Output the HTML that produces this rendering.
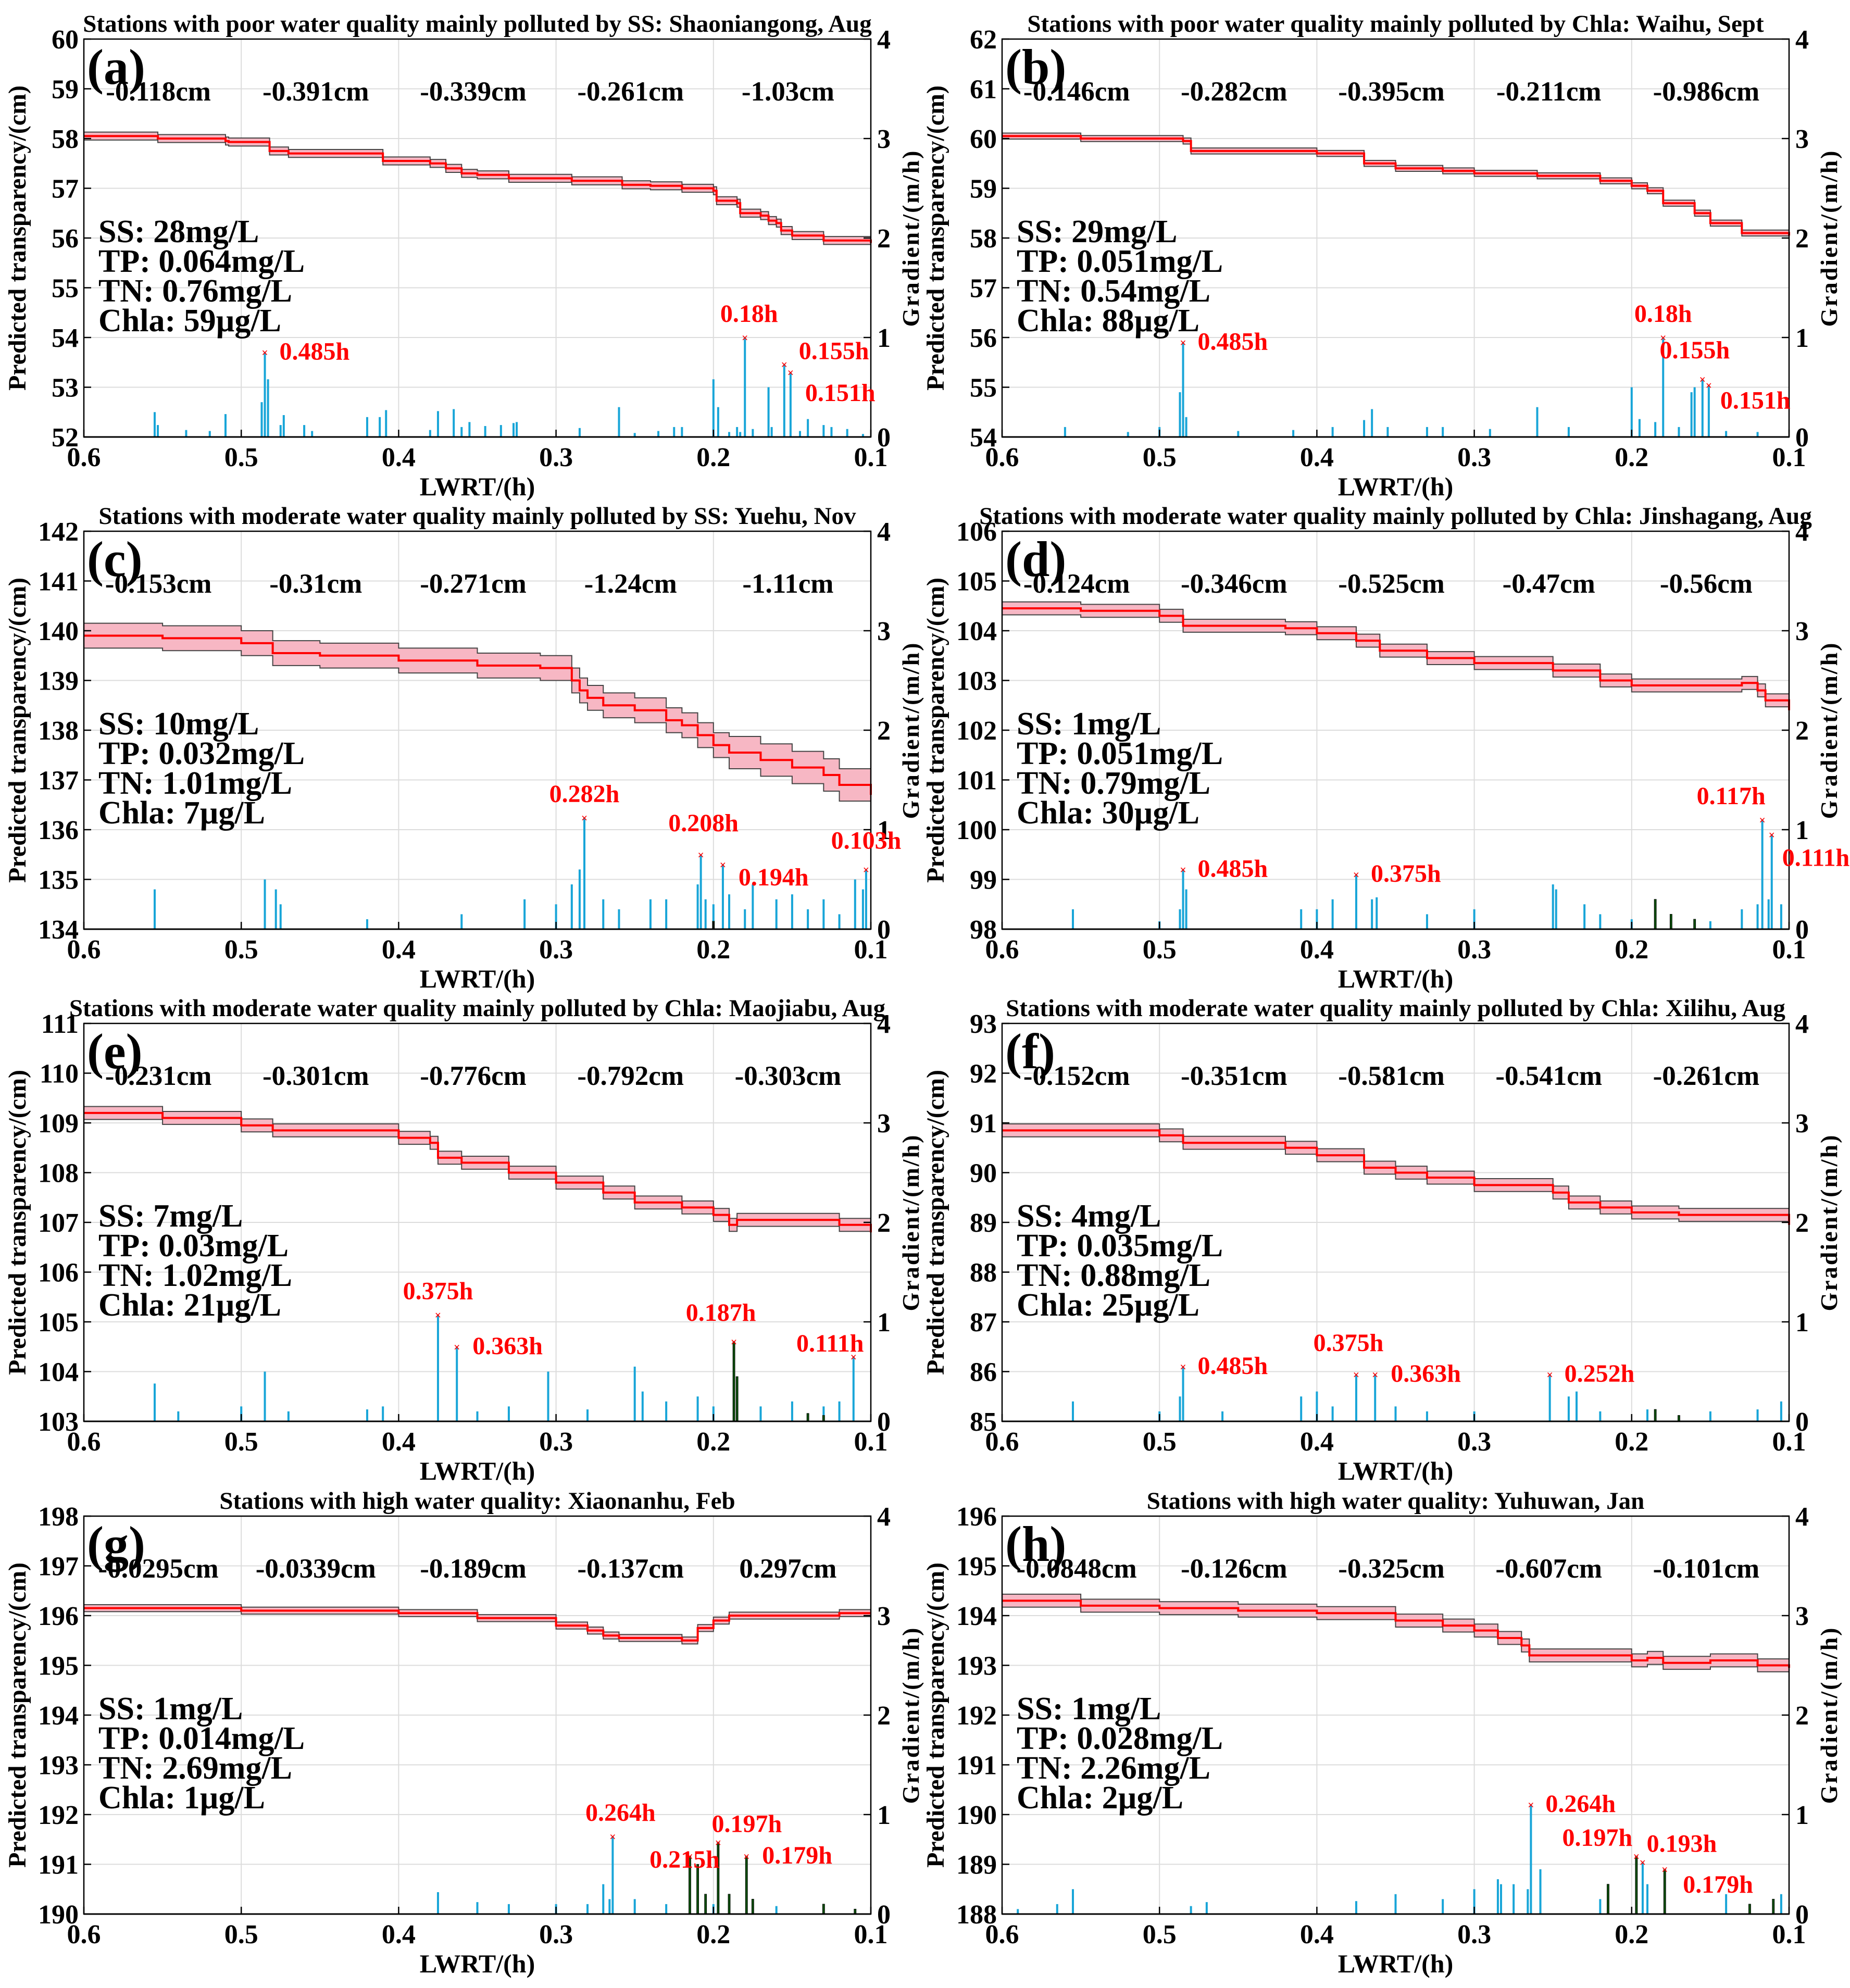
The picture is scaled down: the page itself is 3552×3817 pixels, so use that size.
<!DOCTYPE html>
<html><head><meta charset="utf-8"><style>
html,body{margin:0;padding:0;background:#fff;}
svg{display:block;font-family:"Liberation Serif",serif;font-weight:bold;}
</style></head><body>
<svg id="fig" width="3552" height="3817" viewBox="0 0 3552 3817" xmlns="http://www.w3.org/2000/svg"></svg>
<script>
// ---- panel data (LWRT hours, transparency cm, gradient m/h) ----
const panelIds = ['a','b','c','d','e','f','g','h'];
const titles = [
 'Stations with poor water quality mainly polluted by SS: Shaoniangong, Aug',
 'Stations with poor water quality mainly polluted by Chla: Waihu, Sept',
 'Stations with moderate water quality mainly polluted by SS: Yuehu, Nov',
 'Stations with moderate water quality mainly polluted by Chla: Jinshagang, Aug',
 'Stations with moderate water quality mainly polluted by Chla: Maojiabu, Aug',
 'Stations with moderate water quality mainly polluted by Chla: Xilihu, Aug',
 'Stations with high water quality: Xiaonanhu, Feb',
 'Stations with high water quality: Yuhuwan, Jan'];
const yMins = [52,54,134,98,103,85,190,188];
const segLabels = [
 ['-0.118cm','-0.391cm','-0.339cm','-0.261cm','-1.03cm'],
 ['-0.146cm','-0.282cm','-0.395cm','-0.211cm','-0.986cm'],
 ['-0.153cm','-0.31cm','-0.271cm','-1.24cm','-1.11cm'],
 ['-0.124cm','-0.346cm','-0.525cm','-0.47cm','-0.56cm'],
 ['-0.231cm','-0.301cm','-0.776cm','-0.792cm','-0.303cm'],
 ['-0.152cm','-0.351cm','-0.581cm','-0.541cm','-0.261cm'],
 ['-0.0295cm','-0.0339cm','-0.189cm','-0.137cm','0.297cm'],
 ['-0.0848cm','-0.126cm','-0.325cm','-0.607cm','-0.101cm']];
const quality = [
 ['SS: 28mg/L','TP: 0.064mg/L','TN: 0.76mg/L','Chla: 59\u00b5g/L'],
 ['SS: 29mg/L','TP: 0.051mg/L','TN: 0.54mg/L','Chla: 88\u00b5g/L'],
 ['SS: 10mg/L','TP: 0.032mg/L','TN: 1.01mg/L','Chla: 7\u00b5g/L'],
 ['SS: 1mg/L','TP: 0.051mg/L','TN: 0.79mg/L','Chla: 30\u00b5g/L'],
 ['SS: 7mg/L','TP: 0.03mg/L','TN: 1.02mg/L','Chla: 21\u00b5g/L'],
 ['SS: 4mg/L','TP: 0.035mg/L','TN: 0.88mg/L','Chla: 25\u00b5g/L'],
 ['SS: 1mg/L','TP: 0.014mg/L','TN: 2.69mg/L','Chla: 1\u00b5g/L'],
 ['SS: 1mg/L','TP: 0.028mg/L','TN: 2.26mg/L','Chla: 2\u00b5g/L']];
const bandHalf = [0.08,0.06,0.25,0.13,0.13,0.13,0.07,0.13];
const lineX = [
 [0.6,0.555,0.553,0.51,0.508,0.485,0.482,0.47,0.42,0.41,0.38,0.37,0.36,0.35,0.33,0.3,0.29,0.26,0.258,0.24,0.22,0.2,0.198,0.185,0.183,0.17,0.165,0.16,0.157,0.15,0.13,0.1],
 [0.6,0.55,0.485,0.48,0.4,0.37,0.35,0.32,0.3,0.26,0.22,0.2,0.19,0.18,0.16,0.15,0.13,0.1],
 [0.6,0.55,0.5,0.48,0.45,0.4,0.35,0.31,0.29,0.285,0.28,0.27,0.25,0.23,0.22,0.21,0.2,0.19,0.17,0.15,0.13,0.12,0.1],
 [0.6,0.55,0.5,0.485,0.42,0.4,0.375,0.36,0.33,0.3,0.25,0.22,0.2,0.13,0.12,0.115,0.1],
 [0.6,0.55,0.5,0.48,0.4,0.38,0.375,0.36,0.33,0.3,0.27,0.25,0.22,0.2,0.19,0.185,0.15,0.12,0.1],
 [0.6,0.5,0.485,0.42,0.4,0.37,0.35,0.33,0.3,0.25,0.24,0.22,0.2,0.17,0.1],
 [0.6,0.5,0.4,0.35,0.3,0.28,0.27,0.26,0.22,0.21,0.2,0.19,0.15,0.12,0.1],
 [0.6,0.55,0.5,0.45,0.4,0.35,0.32,0.3,0.285,0.27,0.265,0.2,0.19,0.18,0.15,0.12,0.1]];
const lineY = [
 [58.05,58.05,58.0,57.95,57.93,57.93,57.75,57.7,57.7,57.55,57.5,57.4,57.3,57.27,57.2,57.2,57.15,57.15,57.07,57.05,57.0,56.95,56.75,56.7,56.5,56.45,56.35,56.3,56.15,56.05,55.95,55.9],
 [60.05,60.0,59.95,59.75,59.7,59.5,59.4,59.35,59.3,59.25,59.15,59.05,58.95,58.7,58.5,58.3,58.1,58.05],
 [139.9,139.85,139.75,139.55,139.5,139.4,139.3,139.25,139.0,138.8,138.65,138.5,138.4,138.2,138.1,137.9,137.7,137.55,137.4,137.25,137.1,136.9,136.7],
 [104.45,104.4,104.3,104.1,104.05,103.95,103.8,103.6,103.45,103.35,103.2,103.0,102.9,102.95,102.8,102.6,102.4],
 [109.2,109.1,108.95,108.85,108.7,108.6,108.3,108.2,108.0,107.8,107.6,107.4,107.3,107.15,106.95,107.05,107.05,106.95,106.8],
 [90.85,90.75,90.6,90.5,90.35,90.1,90.0,89.9,89.75,89.6,89.4,89.3,89.2,89.15,88.95],
 [196.15,196.1,196.05,195.95,195.8,195.7,195.6,195.55,195.5,195.75,195.9,196.0,196.0,196.05,196.05],
 [194.3,194.2,194.15,194.1,194.05,193.9,193.8,193.7,193.55,193.4,193.2,193.1,193.15,193.05,193.1,193.0,192.95]];
const barX = [
 [0.555,0.553,0.535,0.52,0.51,0.487,0.485,0.483,0.475,0.473,0.46,0.455,0.42,0.412,0.408,0.38,0.375,0.365,0.36,0.355,0.345,0.335,0.327,0.325,0.285,0.26,0.25,0.235,0.225,0.22,0.2,0.197,0.19,0.185,0.183,0.18,0.175,0.165,0.163,0.155,0.151,0.145,0.14,0.13,0.125,0.115,0.105],
 [0.56,0.52,0.5,0.487,0.485,0.483,0.45,0.415,0.39,0.37,0.365,0.355,0.33,0.32,0.29,0.26,0.24,0.2,0.195,0.185,0.18,0.17,0.162,0.16,0.155,0.151,0.14,0.12],
 [0.555,0.485,0.478,0.475,0.42,0.36,0.32,0.3,0.29,0.285,0.282,0.27,0.26,0.24,0.23,0.21,0.208,0.205,0.2,0.194,0.19,0.18,0.175,0.16,0.15,0.14,0.13,0.12,0.11,0.105,0.103],
 [0.555,0.5,0.487,0.485,0.483,0.41,0.4,0.39,0.375,0.365,0.362,0.33,0.3,0.25,0.248,0.23,0.22,0.2,0.15,0.13,0.12,0.117,0.113,0.111,0.105],
 [0.555,0.54,0.5,0.485,0.47,0.42,0.41,0.375,0.363,0.35,0.33,0.305,0.28,0.25,0.245,0.23,0.21,0.2,0.17,0.15,0.13,0.12,0.111],
 [0.555,0.5,0.487,0.485,0.46,0.41,0.4,0.39,0.375,0.363,0.35,0.33,0.3,0.252,0.24,0.235,0.22,0.19,0.15,0.12,0.105],
 [0.375,0.35,0.33,0.3,0.28,0.27,0.266,0.264,0.25,0.23,0.2,0.16,0.11],
 [0.59,0.565,0.555,0.48,0.47,0.375,0.35,0.32,0.3,0.285,0.283,0.275,0.266,0.264,0.258,0.22,0.193,0.19,0.14,0.105]];
const barH = [
 [0.25,0.12,0.07,0.06,0.23,0.35,0.85,0.58,0.12,0.22,0.12,0.06,0.2,0.2,0.27,0.07,0.26,0.28,0.1,0.15,0.11,0.12,0.14,0.15,0.09,0.3,0.04,0.06,0.1,0.1,0.58,0.3,0.05,0.1,0.05,1.0,0.08,0.5,0.1,0.73,0.65,0.06,0.18,0.12,0.1,0.08,0.03],
 [0.1,0.05,0.1,0.45,0.95,0.2,0.06,0.07,0.1,0.17,0.28,0.1,0.1,0.1,0.08,0.3,0.1,0.5,0.18,0.15,1.0,0.1,0.45,0.5,0.58,0.52,0.06,0.05],
 [0.4,0.5,0.4,0.25,0.1,0.15,0.3,0.25,0.45,0.6,1.12,0.3,0.2,0.3,0.3,0.45,0.75,0.3,0.25,0.65,0.35,0.2,0.45,0.3,0.35,0.2,0.3,0.15,0.5,0.4,0.6],
 [0.2,0.08,0.2,0.6,0.4,0.2,0.2,0.3,0.55,0.3,0.32,0.15,0.2,0.45,0.4,0.25,0.15,0.1,0.08,0.2,0.25,1.1,0.3,0.95,0.25],
 [0.38,0.1,0.15,0.5,0.1,0.12,0.15,1.07,0.75,0.1,0.15,0.5,0.12,0.55,0.3,0.2,0.25,0.15,0.15,0.2,0.15,0.2,0.65],
 [0.2,0.1,0.25,0.55,0.1,0.25,0.3,0.15,0.47,0.47,0.15,0.1,0.1,0.47,0.25,0.3,0.1,0.12,0.1,0.12,0.2],
 [0.22,0.12,0.1,0.1,0.1,0.3,0.15,0.78,0.15,0.1,0.1,0.08,0.05],
 [0.05,0.1,0.25,0.08,0.12,0.13,0.2,0.15,0.25,0.35,0.3,0.3,0.25,1.1,0.45,0.15,0.52,0.3,0.2,0.2]];
const greenX = [[],[],[0.2],[0.185,0.175,0.16],[0.187,0.185,0.14,0.13],[0.185,0.17],[0.215,0.21,0.205,0.197,0.19,0.179,0.175,0.13,0.11],[0.215,0.197,0.179,0.125,0.11]];
const greenH = [[],[],[0.08],[0.3,0.15,0.1],[0.8,0.45,0.08,0.06],[0.12,0.06],[0.58,0.5,0.2,0.72,0.2,0.58,0.15,0.1,0.05],[0.3,0.58,0.45,0.1,0.15]];
const peakX = [[0.485,0.18,0.155,0.151],[0.485,0.18,0.155,0.151],[0.282,0.208,0.194,0.103],[0.485,0.375,0.117,0.111],[0.375,0.363,0.187,0.111],[0.485,0.375,0.363,0.252],[0.264,0.215,0.197,0.179],[0.264,0.197,0.193,0.179]];
const peakH = [[0.85,1.0,0.73,0.65],[0.95,1.0,0.58,0.52],[1.12,0.75,0.65,0.6],[0.6,0.55,1.1,0.95],[1.07,0.75,0.8,0.65],[0.55,0.47,0.47,0.47],[0.78,0.58,0.72,0.58],[1.1,0.58,0.52,0.45]];
const peakLabels = [['0.485h','0.18h','0.155h','0.151h'],['0.485h','0.18h','0.155h','0.151h'],['0.282h','0.208h','0.194h','0.103h'],['0.485h','0.375h','0.117h','0.111h'],['0.375h','0.363h','0.187h','0.111h'],['0.485h','0.375h','0.363h','0.252h'],['0.264h','0.215h','0.197h','0.179h'],['0.264h','0.197h','0.193h','0.179h']];
// label offsets (px) relative to marker: [dx, dy, anchor]
const labelOffsets = [
 [[28,14,'start'],[8,-30,'middle'],[28,-10,'start'],[28,55,'start']],
 [[28,14,'start'],[0,-30,'middle'],[-15,-40,'middle'],[22,45,'start']],
 [[0,-30,'middle'],[5,-45,'middle'],[30,40,'start'],[0,-40,'middle']],
 [[28,14,'start'],[28,14,'start'],[-60,-30,'middle'],[20,60,'start']],
 [[0,-30,'middle'],[30,14,'start'],[-25,-40,'middle'],[-45,-10,'middle']],
 [[28,14,'start'],[-15,-45,'middle'],[30,14,'start'],[28,14,'start']],
 [[15,-30,'middle'],[-10,22,'middle'],[55,-20,'middle'],[30,14,'start']],
 [[28,14,'start'],[-75,-20,'middle'],[75,-20,'middle'],[35,45,'start']]];
const xTicks = [0.6,0.5,0.4,0.3,0.2,0.1];
const rTicks = [0,1,2,3,4];

const svg = document.getElementById('fig');
const NS = 'http://www.w3.org/2000/svg';
function mk(tag, attrs, parent){ const e=document.createElementNS(NS,tag); for(const k in attrs) e.setAttribute(k,attrs[k]); parent.appendChild(e); return e; }
const colLeft = [161,1924], rowTop = [75,1020,1965,2911], PW = 1511, PH = 764;

panelIds.forEach((pid,i)=>{
  const L = colLeft[i%2], T = rowTop[Math.floor(i/2)];
  const y0 = yMins[i];
  const xs = v => L + (0.6 - v)/0.5*PW;
  const ys = v => T + PH - (v - y0)/8*PH;
  const gs = v => T + PH - v/4*PH;
  const g = mk('g',{},svg);
  
  
  // grid
  for(let k=1;k<8;k++){ const gy=T+PH*k/8; const gl=mk('line',{x1:L,x2:L+PW,y1:gy,y2:gy,stroke:'#dcdcdc','stroke-width':2},g);   }
  xTicks.forEach(t=>{ const gl=mk('line',{x1:xs(t),x2:xs(t),y1:T,y2:T+PH,stroke:'#dcdcdc','stroke-width':2},g);   });
  // bars
  barX[i].forEach((bx,k)=>{ const h=barH[i][k]; const r=mk('rect',{x:xs(bx)-2,y:gs(h),width:4,height:gs(0)-gs(h),fill:'#18a5d8'},g);   });
  greenX[i].forEach((bx,k)=>{ const h=greenH[i][k]; const r=mk('rect',{x:xs(bx)-2,y:gs(h),width:4,height:gs(0)-gs(h),fill:'#0b4d0b',stroke:'#000','stroke-width':0.8},g);   });
  // band + line (step)
  const lx=lineX[i], ly=lineY[i], bw=bandHalf[i];
  const up=[], dn=[], mid=[];
  const wAt = x => bw*(i===2 && x<0.2 ? 1.3 : 1);
  lx.forEach((x,k)=>{
    const w=wAt(x);
    if(k>0){ const pw=wAt(lx[k-1]); up.push(xs(x)+','+ys(ly[k-1]+pw)); dn.push(xs(x)+','+ys(ly[k-1]-pw)); mid.push(xs(x)+','+ys(ly[k-1])); }
    up.push(xs(x)+','+ys(ly[k]+w)); dn.push(xs(x)+','+ys(ly[k]-w)); mid.push(xs(x)+','+ys(ly[k]));
  });
  const band=mk('polygon',{points:up.concat(dn.slice().reverse()).join(' '),fill:'#f7b7c4',stroke:'none'},g);
   
  const bu=mk('polyline',{points:up.join(' '),fill:'none',stroke:'#444','stroke-width':2},g);  
  const bd=mk('polyline',{points:dn.join(' '),fill:'none',stroke:'#444','stroke-width':2},g);  
  const ln=mk('polyline',{points:mid.join(' '),fill:'none',stroke:'#ff0000','stroke-width':4},g);  
  // zero baseline
  mk('line',{x1:L,x2:L+PW,y1:T+PH,y2:T+PH,stroke:'#000','stroke-width':3},g);
  // axes box
  const box=mk('rect',{x:L,y:T,width:PW,height:PH,fill:'none',stroke:'#000','stroke-width':2.5},g);  
  // ticks + labels
  for(let k=0;k<=8;k++){ const yy=T+PH-PH*k/8; mk('line',{x1:L,x2:L+14,y1:yy,y2:yy,stroke:'#000','stroke-width':2.5},g);
    const t=mk('text',{x:L-10,y:yy+18,'text-anchor':'end','font-size':52},g); t.textContent=String(y0+k);   }
  rTicks.forEach(v=>{ const yy=gs(v); mk('line',{x1:L+PW-14,x2:L+PW,y1:yy,y2:yy,stroke:'#000','stroke-width':2.5},g);
    const t=mk('text',{x:L+PW+12,y:yy+18,'font-size':52},g); t.textContent=String(v);   });
  xTicks.forEach(v=>{ const xx=xs(v); mk('line',{x1:xx,x2:xx,y1:T+PH-14,y2:T+PH,stroke:'#000','stroke-width':2.5},g);
    const t=mk('text',{x:xx,y:T+PH+56,'text-anchor':'middle','font-size':52},g); t.textContent=v.toFixed(1);   });
  // axis titles
  const xl=mk('text',{x:L+PW/2,y:T+PH+112,'text-anchor':'middle','font-size':50},g); xl.textContent='LWRT/(h)';  
  const yl=mk('text',{x:0,y:0,'text-anchor':'middle','font-size':48,transform:`translate(${L-112},${T+PH/2}) rotate(-90)`},g); yl.textContent='Predicted transparency/(cm)';  
  const rl=mk('text',{x:0,y:0,'text-anchor':'middle','font-size':46,'letter-spacing':3,transform:`translate(${L+PW+92},${T+PH/2}) rotate(-90)`},g); rl.textContent='Gradient/(m/h)';  
  const tt=mk('text',{x:L+PW/2,y:T-14,'text-anchor':'middle','font-size':47},g); tt.textContent=titles[i];  
  // panel letter
  const pl=mk('text',{x:L+6,y:T+86,'font-size':96},g); pl.textContent='('+pid+')';  
  // segment labels
  segLabels[i].forEach((s,k)=>{ const cx=xs(0.55-0.1*k)-8; const t=mk('text',{x:cx,y:T+PH*0.06+72,'text-anchor':'middle','font-size':53},g); t.textContent=s;   });
  // quality text
  quality[i].forEach((s,k)=>{ const t=mk('text',{x:L+28,y:T+PH*0.5+8+k*57,'font-size':62},g); t.textContent=s;   });
  // peaks
  peakX[i].forEach((px,k)=>{ const cx=xs(px), cy=gs(peakH[i][k]);
    const m=mk('text',{x:cx,y:cy+8,'text-anchor':'middle','font-size':22,fill:'#ff0000'},g); m.textContent='\u00d7';  
    const o=labelOffsets[i][k];
    const t=mk('text',{x:cx+o[0],y:cy+o[1],'text-anchor':o[2],'font-size':48,fill:'#ff0000'},g); t.textContent=peakLabels[i][k];   });
});
</script>
</body></html>
